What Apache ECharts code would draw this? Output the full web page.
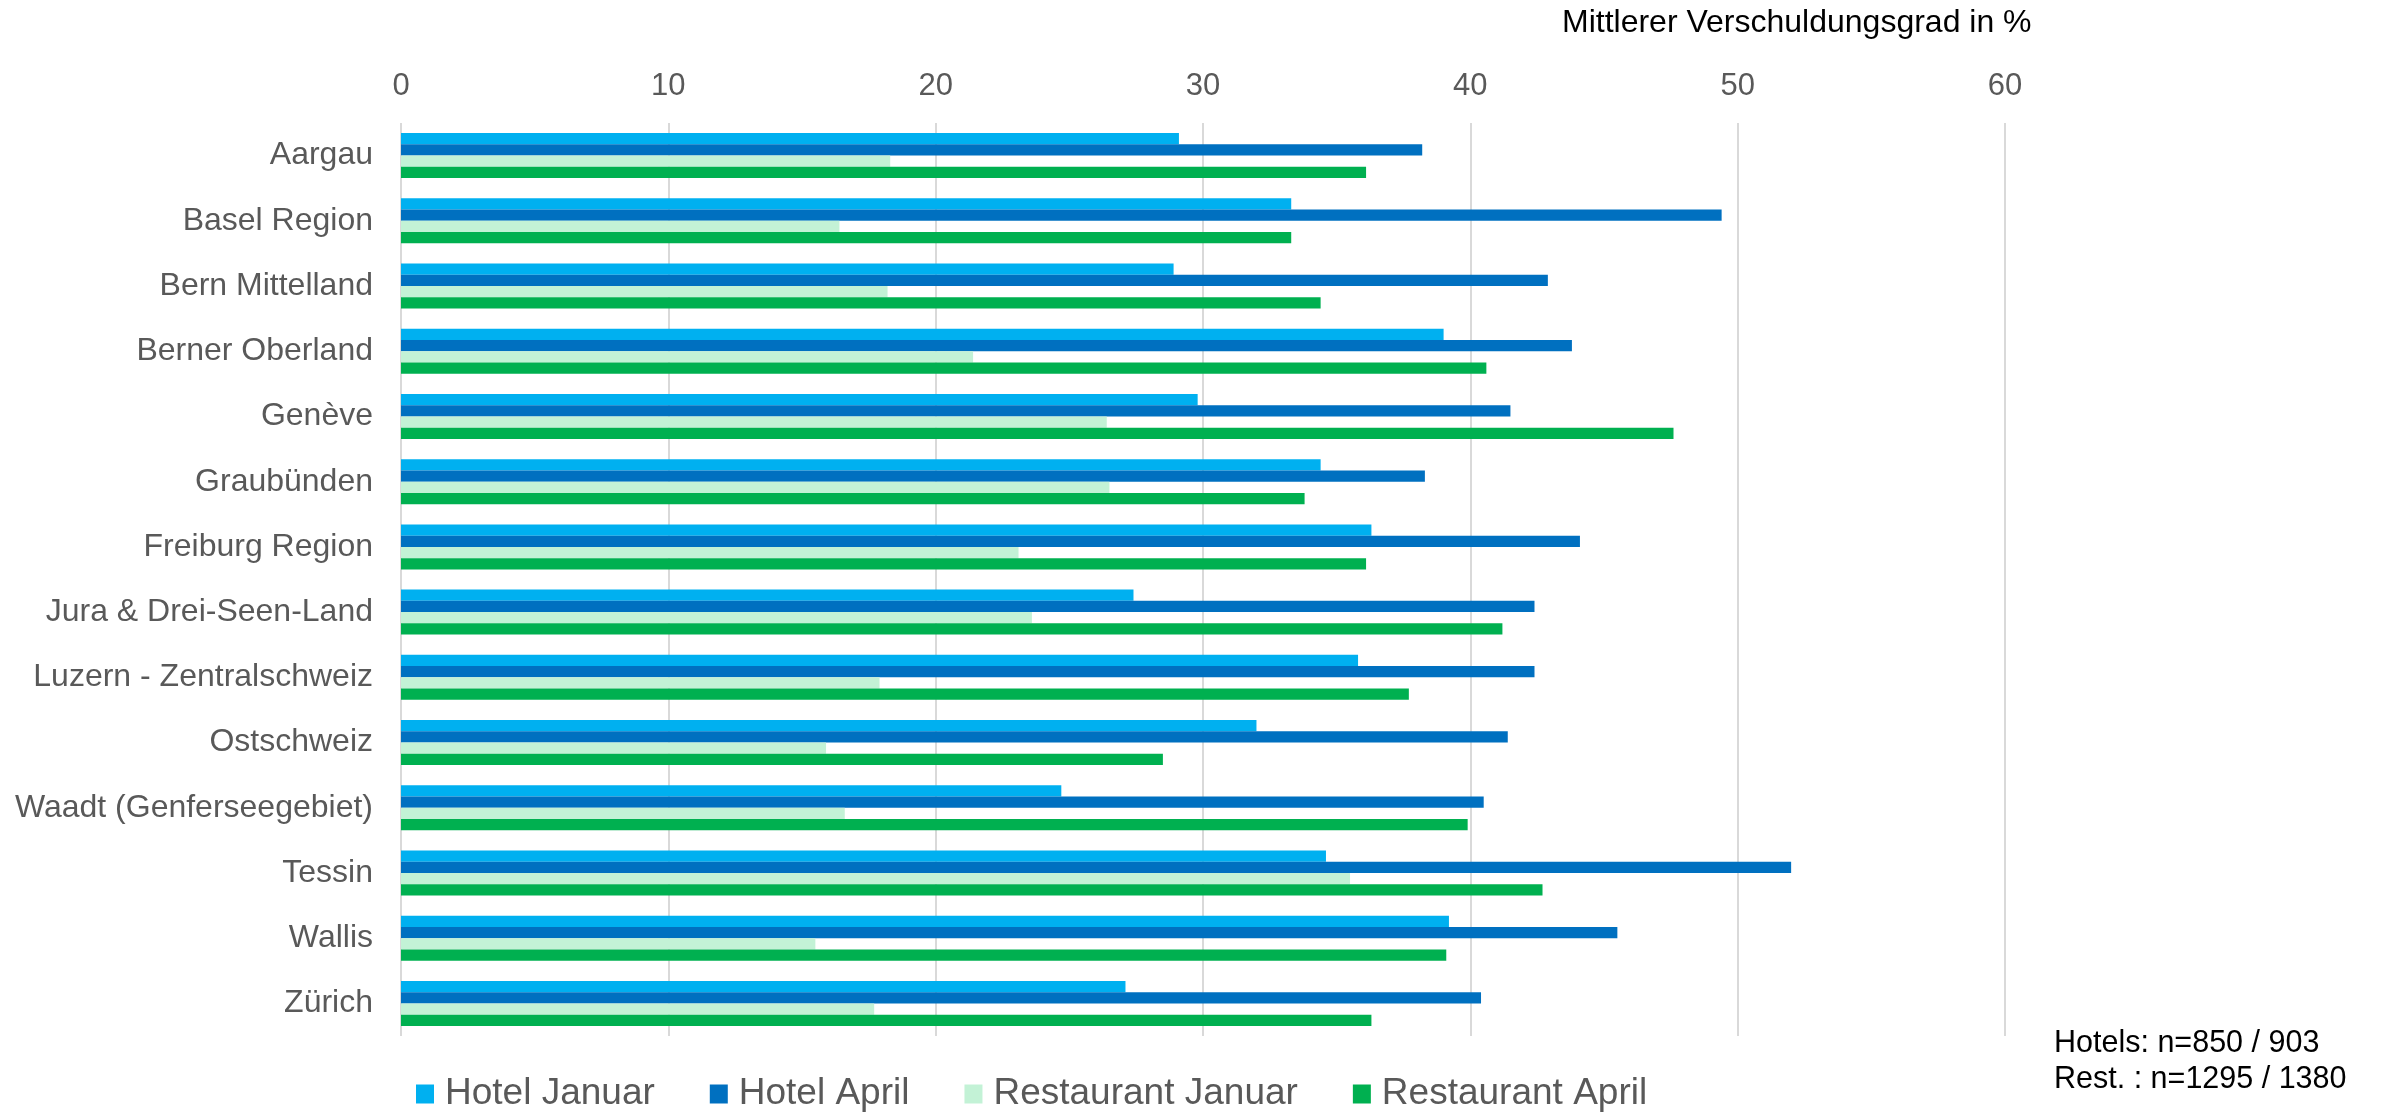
<!DOCTYPE html>
<html>
<head>
<meta charset="utf-8">
<script src="https://cdn.jsdelivr.net/npm/echarts@6/dist/echarts.min.js"></script>
<style>
html,body{margin:0;padding:0;background:#fff;}
#chart{width:2389px;height:1112px;}
</style>
</head>
<body>
<div id="chart"></div>
<script>
var categories = ['Aargau','Basel Region','Bern Mittelland','Berner Oberland','Genève','Graubünden','Freiburg Region','Jura & Drei-Seen-Land','Luzern - Zentralschweiz','Ostschweiz','Waadt (Genferseegebiet)','Tessin','Wallis','Zürich'];
var hotelJanuar =      [29.1, 33.3, 28.9, 39.0, 29.8, 34.4, 36.3, 27.4, 35.8, 32.0, 24.7, 34.6, 39.2, 27.1];
var hotelApril =       [38.2, 49.4, 42.9, 43.8, 41.5, 38.3, 44.1, 42.4, 42.4, 41.4, 40.5, 52.0, 45.5, 40.4];
var restaurantJanuar = [18.3, 16.4, 18.2, 21.4, 26.4, 26.5, 23.1, 23.6, 17.9, 15.9, 16.6, 35.5, 15.5, 17.7];
var restaurantApril =  [36.1, 33.3, 34.4, 40.6, 47.6, 33.8, 36.1, 41.2, 37.7, 28.5, 39.9, 42.7, 39.1, 36.3];
var seriesNames = ['Hotel Januar','Hotel April','Restaurant Januar','Restaurant April'];
var seriesColors = ['#00B0F0','#0070C0','#C3F2D6','#00B050'];
var axisTitle = 'Mittlerer Verschuldungsgrad in %';
var noteLines = ['Hotels: n=850 / 903', 'Rest. : n=1295 / 1380'];

var FONT = 'Liberation Sans, Arial, sans-serif';
var chart = echarts.init(document.getElementById('chart'), null, {renderer:'canvas'});
var dataSets = [hotelJanuar, hotelApril, restaurantJanuar, restaurantApril];
var series = dataSets.map(function(d, i){
  return {
    name: seriesNames[i],
    type: 'bar',
    data: d,
    barGap: '0%',
    barCategoryGap: '31%',
    itemStyle: {color: seriesColors[i]},
    animation: false
  };
});
chart.setOption({
  animation: false,
  textStyle: {fontFamily: FONT},
  grid: {left: 401, right: 384, top: 123, bottom: 76, containLabel: false},
  legend: {
    left: 416, top: 1074, padding: 0,
    itemWidth: 18, itemHeight: 19, itemGap: 55,
    icon: 'rect',
    data: seriesNames,
    textStyle: {fontSize: 37, color: '#595959', padding: [0,0,0,6], lineHeight: 40, fontFamily: FONT}
  },
  xAxis: {
    type: 'value', position: 'top', min: 0, max: 60, interval: 10,
    axisLine: {show: false}, axisTick: {show: false},
    splitLine: {show: true, lineStyle: {color: '#D9D9D9', width: 2}},
    axisLabel: {fontSize: 31, color: '#595959', margin: 21, fontFamily: FONT}
  },
  yAxis: {
    type: 'category', data: categories, inverse: true,
    axisLine: {show: false}, axisTick: {show: false},
    axisLabel: {fontSize: 32, color: '#595959', margin: 28, fontFamily: FONT}
  },
  graphic: [
    {type: 'text', left: 1562, top: 7, style: {text: axisTitle, fontSize: 32, fill: '#000', fontFamily: FONT}},
    {type: 'text', left: 2054, top: 1026, style: {text: noteLines.join('\n'), fontSize: 30.5, lineHeight: 36, fill: '#000', fontFamily: FONT}}
  ],
  series: series
});
</script>
</body>
</html>
